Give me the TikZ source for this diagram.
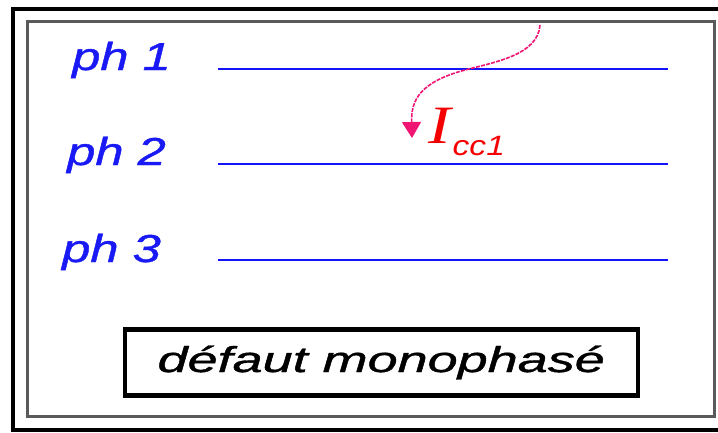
\documentclass[tikz,border=0pt]{standalone}
\usepackage{fontspec}
\usepackage{graphicx}
\setmainfont{Liberation Sans}
\newfontfamily\seriffam{Liberation Serif}
\newfontfamily\sansfam{Liberation Sans}
\newfontfamily\heavysans[FakeBold=0.9]{Liberation Sans}
\usetikzlibrary{arrows.meta}
\definecolor{phblue}{RGB}{25,25,245}
\definecolor{lineblue}{RGB}{20,20,250}
\definecolor{fluxpink}{RGB}{240,20,115}
\definecolor{iccred}{RGB}{245,0,0}
\definecolor{framegray}{RGB}{90,90,90}
\begin{document}
\begin{tikzpicture}[x=1pt,y=-1pt,
  phlabel/.style={anchor=base west,inner sep=0pt,text=phblue,
    font=\heavysans\fontsize{39}{39}\selectfont\itshape},
  phline/.style={draw=lineblue,line width=2.5pt},
  faultbox/.style={draw=black,line width=4.5pt,inner sep=0pt,
    minimum width=513pt,minimum height=66pt,
    font=\heavysans\fontsize{36}{36}\selectfont\itshape},
  current/.style={draw=fluxpink,line width=1.6pt,dash pattern=on 4pt off 1.2pt,
    -{Triangle[width=19pt,length=16pt]}},
  currentlabel/.style={anchor=base west,inner sep=0pt,text=iccred}]

% page and frames
\useasboundingbox (0,0) rectangle (718,432);
\fill[white] (0,0) rectangle (718,432);
\draw[line width=4pt] (13,9) rectangle (740,430);
\draw[framegray,line width=2.2pt] (27.5,21.5) rectangle (714.5,416.5);

% phase labels
\node[phlabel] (ph1) at (72,70)  {\scalebox{1.3}[1]{ph 1}};
\node[phlabel] (ph2) at (67,165) {\scalebox{1.3}[1]{ph 2}};
\node[phlabel] (ph3) at (62,262) {\scalebox{1.3}[1]{ph 3}};

% phase conductors
\coordinate (l1a) at (218,69);  \coordinate (l1b) at (668,69);
\coordinate (l2a) at (218,164); \coordinate (l2b) at (668,164);
\coordinate (l3a) at (218,260); \coordinate (l3b) at (668,260);
\draw[phline] (l1a) -- (l1b);
\draw[phline] (l2a) -- (l2b);
\draw[phline] (l3a) -- (l3b);

% fault current
\coordinate (src) at (540,25);
\coordinate (tip) at (412,138);
\draw[current] (src) .. controls (538,55) and (495,62) .. (465,70)
  .. controls (420,82) and (411,100) .. (tip);
\node[currentlabel] (icc) at (428,143)
  {{\seriffam\itshape\fontsize{54}{54}\selectfont\scalebox{1.25}[1]{I}}\kern2pt%
   \raisebox{-12pt}{\sansfam\itshape\fontsize{28}{28}\selectfont\scalebox{1.2}[1]{cc1}}};

% fault type
\node[faultbox] (fault) at (381.25,362.5) {\scalebox{1.5}[1]{défaut monophasé}};
\end{tikzpicture}
\end{document}
